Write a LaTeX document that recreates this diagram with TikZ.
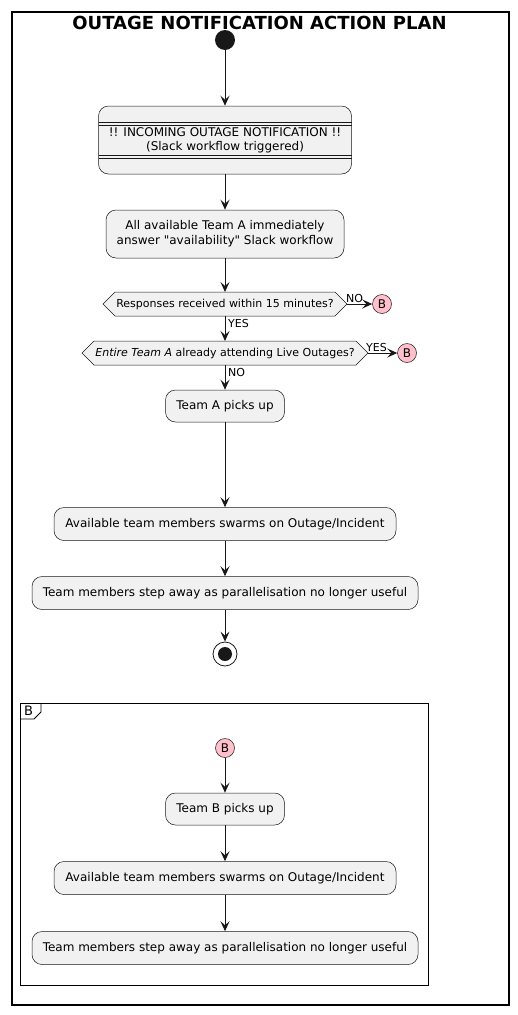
\documentclass[tikz,border=0pt]{standalone}
\usepackage{fontspec}
\setmainfont{DejaVu Sans}
\usetikzlibrary{arrows.meta,shapes.misc}
\definecolor{boxfill}{HTML}{F1F1F1}
\definecolor{edge}{HTML}{181818}
\definecolor{pinkb}{HTML}{FFC0CB}
\tikzset{
  act/.style={draw=edge,fill=boxfill,rounded corners=10pt,line width=0.5pt,inner sep=0pt,font=\fontsize{12}{15}\selectfont,align=center},
  dec/.style={draw=edge,fill=boxfill,line width=0.5pt},
  dectext/.style={font=\fontsize{11}{13}\selectfont,inner sep=0pt},
  conn/.style={draw=edge,line width=1pt,-{Stealth[length=10pt,width=9pt,inset=4pt]}},
  lbl/.style={font=\fontsize{11}{12}\selectfont,inner sep=0pt},
  bcirc/.style={circle,draw=edge,fill=pinkb,line width=0.5pt,minimum size=19pt,inner sep=0pt,font=\fontsize{12}{12}\selectfont},
  frame/.style={draw=black,line width=1.2pt},
}
\begin{document}
\begin{tikzpicture}[x=1pt,y=-1pt]
\useasboundingbox (0,0) rectangle (518,1015);
\draw[frame] (12,12) rectangle (509,1005);
\node[font=\fontsize{18}{20}\selectfont\bfseries] (title) at (259.5,22.5) {OUTAGE NOTIFICATION ACTION PLAN};

% start
\node[circle,fill=edge,minimum size=20pt,inner sep=0pt] (start) at (225,40) {};

% box1
\node[act,minimum width=253pt,minimum height=68pt] (b1) at (225,140) {};
\draw[edge,line width=0.8pt] (98.5,122) -- (351.5,122) (98.5,125) -- (351.5,125);
\draw[edge,line width=0.8pt] (98.5,155) -- (351.5,155) (98.5,158) -- (351.5,158);
\node[font=\fontsize{12}{13.5}\selectfont,inner sep=0pt,align=center] (b1t) at (225,140.5) {!! INCOMING OUTAGE NOTIFICATION !!\\(Slack workflow triggered)};

% box2
\node[act,minimum width=238pt,minimum height=48pt] (b2) at (225,234) {All available Team A immediately\\answer \textquotedbl availability\textquotedbl{} Slack workflow};

% decision 1
\draw[dec] (103,304) -- (115,292) -- (335,292) -- (347,304) -- (335,316) -- (115,316) -- cycle;
\node[dectext] (d1) at (225,304) {Responses received within 15 minutes?};
\coordinate (d1t) at (225,292);
\coordinate (d1b) at (225,316);
\coordinate (d1r) at (347,304);
\node[bcirc] (B1) at (382,304) {B};

% decision 2
\draw[dec] (82,353) -- (94,341) -- (356,341) -- (368,353) -- (356,365) -- (94,365) -- cycle;
\node[dectext] (d2) at (225,353) {\textit{Entire Team A} already attending Live Outages?};
\coordinate (d2t) at (225,341);
\coordinate (d2b) at (225,365);
\coordinate (d2r) at (368,353);
\node[bcirc] (B2) at (407,353) {B};

% Team A
\node[act,minimum width=119pt,minimum height=32pt] (ta) at (225,406) {Team A picks up};
\node[act,minimum width=342pt,minimum height=33pt] (av1) at (225,524) {Available team members swarms on Outage/Incident};
\node[act,minimum width=386pt,minimum height=33pt] (sa1) at (225,593) {Team members step away as parallelisation no longer useful};

% end
\node[circle,draw=edge,line width=0.8pt,fill=white,minimum size=24pt,inner sep=0pt] (end) at (225,654) {};
\node[circle,fill=edge,minimum size=14pt,inner sep=0pt] (endin) at (225,654) {};

% connectors main
\draw[conn] (start) -- (b1);
\draw[conn] (b1) -- (b2);
\draw[conn] (b2) -- (d1t);
\draw[conn] (d1b) -- (d2t);
\draw[conn] (d2b) -- (ta);
\draw[conn] (ta) -- (av1);
\draw[conn] (av1) -- (sa1);
\draw[conn] (sa1) -- (end);
\draw[conn] (d1r) -- (B1);
\draw[conn] (d2r) -- (B2);
\node[lbl,anchor=south west] (no1) at (346,303) {NO};
\node[lbl,anchor=west] (yes1) at (228,323) {YES};
\node[lbl,anchor=south west] (yes2) at (366,352) {YES};
\node[lbl,anchor=west] (no2) at (228,372) {NO};

% frame B
\draw[frame,line width=1pt] (20,703) rectangle (428,985);
\draw[line width=0.8pt] (20,719) -- (34,719) -- (41,712) -- (41,703);
\node[font=\fontsize{13}{13}\selectfont,inner sep=0pt] (ftag) at (28.5,711) {B};

\node[bcirc] (B3) at (225,748) {B};
\node[act,minimum width=119pt,minimum height=32pt] (tb) at (225,809) {Team B picks up};
\node[act,minimum width=342pt,minimum height=33pt] (av2) at (225,878) {Available team members swarms on Outage/Incident};
\node[act,minimum width=386pt,minimum height=33pt] (sa2) at (225,948) {Team members step away as parallelisation no longer useful};
\draw[conn] (B3) -- (tb);
\draw[conn] (tb) -- (av2);
\draw[conn] (av2) -- (sa2);
\end{tikzpicture}
\end{document}
